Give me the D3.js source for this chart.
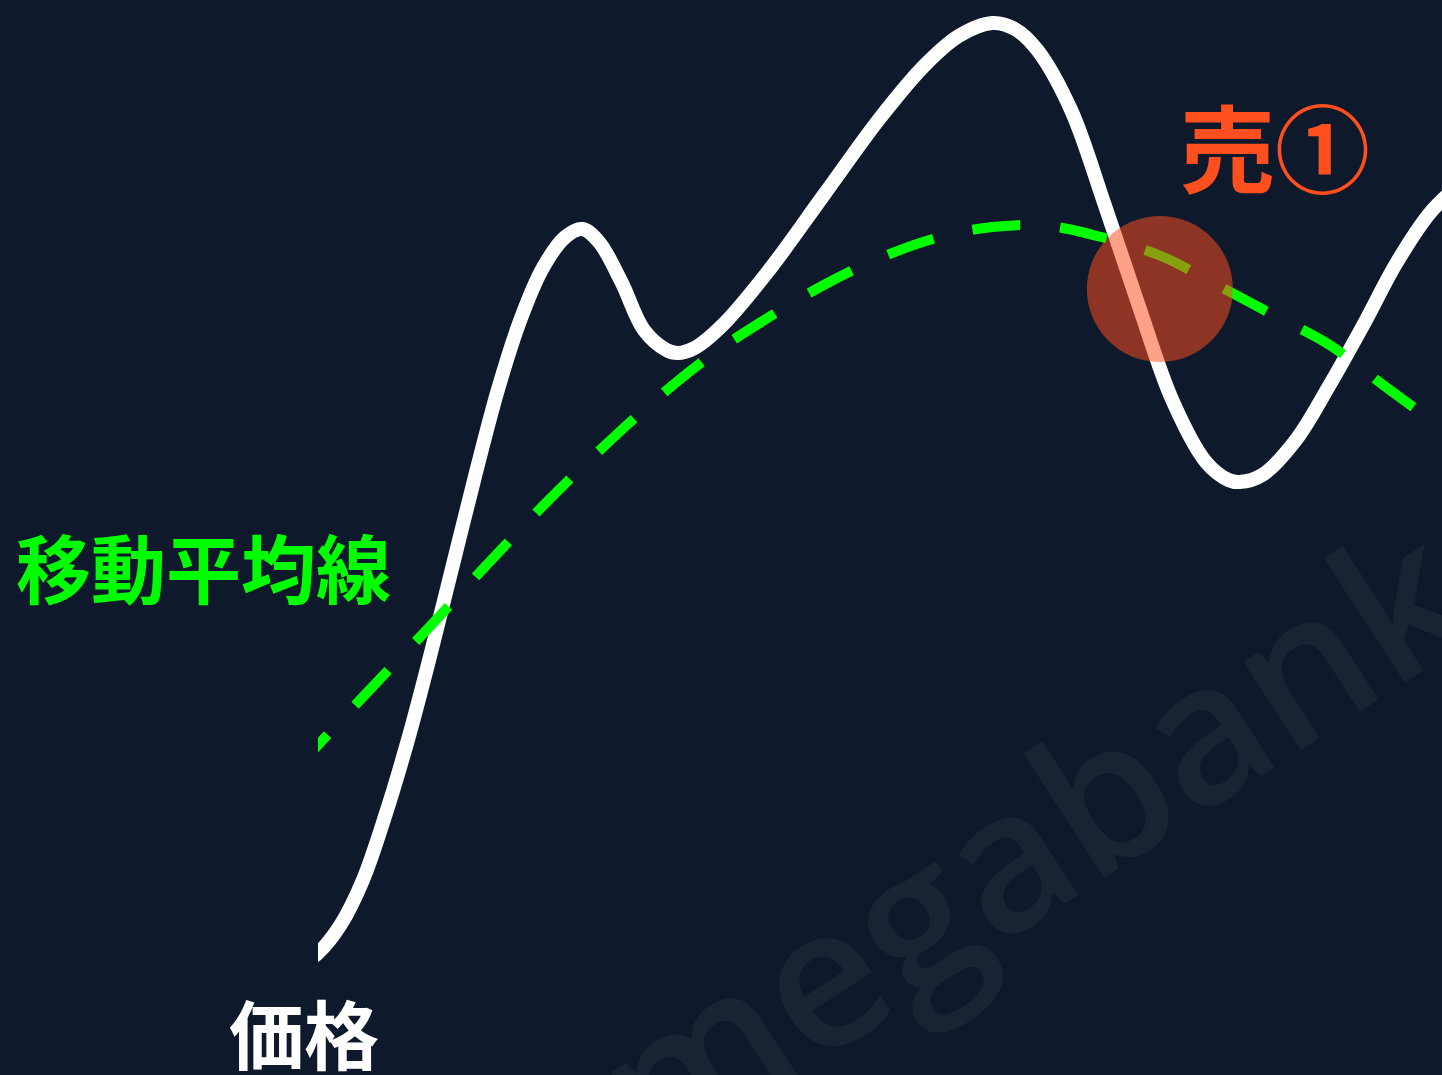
<!DOCTYPE html>
<meta charset="utf-8">
<style>
body { margin: 0; background: #0e1a2b; }
text { font-family: 'Noto Sans CJK JP', sans-serif; font-weight: 700; }
.price { fill: none; stroke: #ffffff; stroke-width: 14; }
.ma { fill: none; stroke: #00ff00; stroke-width: 10; stroke-dasharray: 48 40; }
.sell { fill: #ff4b1e; fill-opacity: 0.53; }
</style>
<svg id="chart" width="1442" height="1075"></svg>
<script src="https://d3js.org/d3.v7.min.js"></script>
<script>

// time steps and price values
var priceT = [-2, 0, 2, 4, 6, 8, 10, 12, 14, 16, 18, 20, 22, 23.5, 25, 27, 29, 31, 32, 33.5, 36, 40, 45, 50, 54, 57, 60, 62, 64, 67, 70, 73, 76, 79, 81, 82, 84, 87, 90, 93, 96, 99, 102];
var priceV = [3.2, 4.7, 7.5, 12, 18.5, 26, 34.5, 43.5, 52.5, 61, 68.0, 73.2, 76.3, 77.1, 75.8, 71.8, 67, 65, 64.7, 65.2, 67.5, 72.8, 80.5, 88.2, 93.5, 96.4, 97.7, 97.1, 95, 89, 79.5, 69.5, 60, 53.8, 52, 51.8, 52.5, 56, 61.5, 67.5, 73.8, 78.8, 82];

// moving average
var maT = [-2, 0, 5, 10, 15, 20, 25, 30, 35, 40, 45, 50, 55, 60, 65, 70, 75, 80, 85, 90, 95, 100, 102];
var maV = [23.0, 25.5, 31.5, 37.4, 43.5, 49.4, 54.9, 60.0, 64.5, 68.2, 71.5, 74.2, 76.2, 77.3, 77.4, 76.2, 74.4, 71.5, 68.5, 65.5, 61.3, 57.2, 55.5];

// sell signal (cross point)
var sellT = 74.9, sellV = 71.1;

var labelMA = "移動平均線", labelPrice = "価格", labelSell = "売①";

var svg = d3.select("#chart"),
    width = +svg.attr("width"),
    height = +svg.attr("height");

svg.append("rect").attr("width", width).attr("height", height).attr("fill", "#0e1a2b");

// watermark
svg.append("text")
    .attr("transform", "translate(1070,900) rotate(-33)")
    .attr("text-anchor", "middle")
    .style("font-family", "'Open Sans', sans-serif")
    .style("font-weight", 600)
    .style("font-size", "195px")
    .attr("fill", "#ffffff")
    .attr("fill-opacity", 0.045)
    .text("megabank");

var x = d3.scaleLinear().domain([0, 100]).range([318, 1442]);
var y = d3.scaleLinear().domain([0, 100]).range([1000, 0]);

svg.append("clipPath").attr("id", "clip")
    .append("rect").attr("x", x(0)).attr("y", 0).attr("width", width - x(0)).attr("height", height);

var line = d3.line()
    .x(function(d) { return x(d[0]); })
    .y(function(d) { return y(d[1]); })
    .curve(d3.curveCatmullRom.alpha(0.5));

var plot = svg.append("g").attr("clip-path", "url(#clip)");

plot.append("path")
    .datum(priceT.map(function(t, i) { return [t, priceV[i]]; }))
    .attr("class", "price")
    .attr("d", line);

plot.append("path")
    .datum(maT.map(function(t, i) { return [t, maV[i]]; }))
    .attr("class", "ma")
    .attr("d", line);

plot.append("circle")
    .attr("class", "sell")
    .attr("cx", x(sellT))
    .attr("cy", y(sellV))
    .attr("r", 73);

svg.append("text")
    .attr("x", 16).attr("y", 598)
    .style("font-size", "75px")
    .attr("fill", "#00ff00")
    .text(labelMA);

svg.append("text")
    .attr("x", 229).attr("y", 1064)
    .style("font-size", "75px")
    .attr("fill", "#ffffff")
    .text(labelPrice);

svg.append("text")
    .attr("x", 1180).attr("y", 186)
    .style("font-size", "95px")
    .attr("fill", "#ff4f1f")
    .text(labelSell);

</script>
